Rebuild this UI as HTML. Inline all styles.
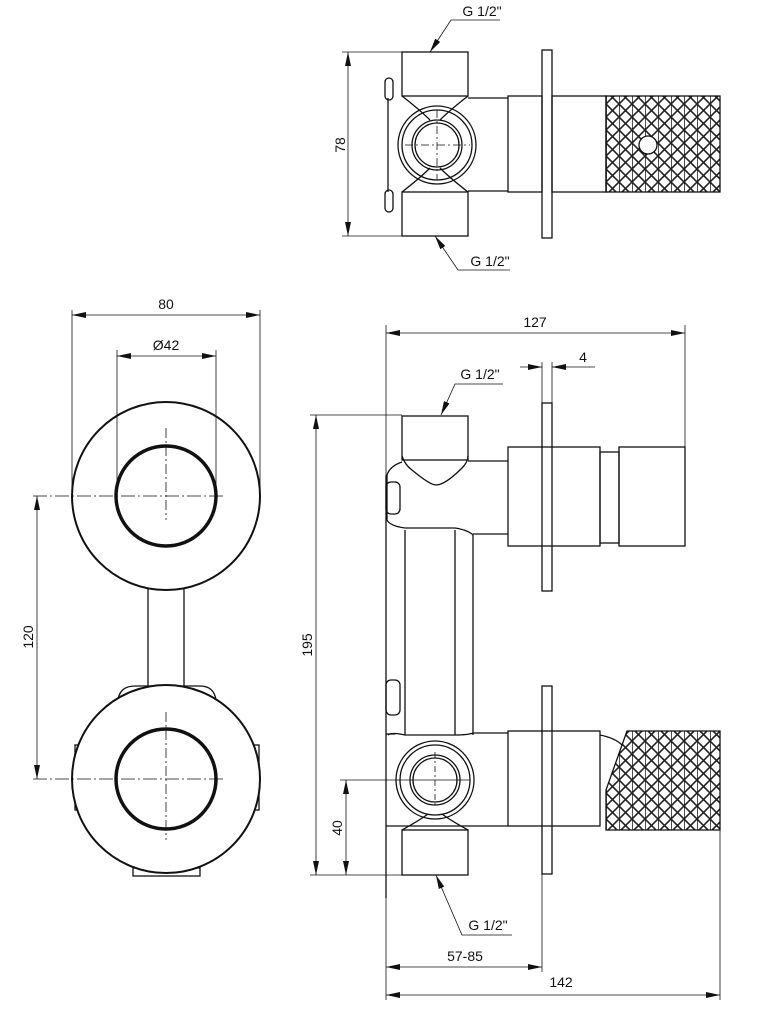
<!DOCTYPE html>
<html><head><meta charset="utf-8"><style>
html,body{margin:0;padding:0;background:#fff;}
svg{display:block;}
text{font-family:"Liberation Sans",sans-serif;font-size:14px;fill:#111;}
</style></head><body>
<svg width="757" height="1030" viewBox="0 0 757 1030" xmlns="http://www.w3.org/2000/svg">
<defs>
<pattern id="kn" width="13" height="13" patternUnits="userSpaceOnUse" x="606" y="0">
<path d="M0 0L13 13M13 0L0 13M0 0V13" stroke="#222" stroke-width="1.6" fill="none"/>
</pattern>
<marker id="a" markerWidth="14" markerHeight="6" refX="14" refY="3" orient="auto" markerUnits="userSpaceOnUse">
<path d="M0 0L14 3L0 6z" fill="#111"/></marker>
</defs>
<g fill="none" stroke="#111" stroke-width="1.3">

<!-- LEFT FRONT VIEW -->
<rect x="133" y="868" width="67" height="8"/>
<rect x="75" y="745" width="7" height="65"/>
<rect x="252" y="745" width="7" height="65"/>
<path d="M118 700 Q120 686 135 686 H200 Q214 686 216 700"/>
<line x1="148" y1="588" x2="148" y2="686"/>
<line x1="184" y1="588" x2="184" y2="686"/>
<circle cx="166" cy="496" r="94" stroke-width="2" fill="#fff"/>
<circle cx="166" cy="496" r="50" stroke-width="3.5"/>
<circle cx="166" cy="779" r="94" stroke-width="2" fill="#fff"/>
<circle cx="166" cy="779" r="50" stroke-width="3.5"/>
</g>
<g stroke="#111" stroke-width="0.8" fill="none">
<line x1="166" y1="428" x2="166" y2="520" stroke-dasharray="10 3 2 3"/>
<line x1="166" y1="712" x2="166" y2="840" stroke-dasharray="10 3 2 3"/>
<line x1="33" y1="496" x2="225" y2="496" stroke-dasharray="14 3 2 3"/>
<line x1="33" y1="779" x2="225" y2="779" stroke-dasharray="14 3 2 3"/>
<line x1="72" y1="310" x2="72" y2="490"/><line x1="260" y1="310" x2="260" y2="490"/>
<line x1="117" y1="350" x2="117" y2="496"/><line x1="216" y1="350" x2="216" y2="496"/>
<line x1="166" y1="315" x2="72" y2="315" marker-end="url(#a)"/><line x1="166" y1="315" x2="260" y2="315" marker-end="url(#a)"/>
<line x1="166" y1="356" x2="117" y2="356" marker-end="url(#a)"/><line x1="166" y1="356" x2="216" y2="356" marker-end="url(#a)"/>
<line x1="37" y1="637" x2="37" y2="496" marker-end="url(#a)"/><line x1="37" y1="637" x2="37" y2="779" marker-end="url(#a)"/>
</g>
<text x="166" y="309" text-anchor="middle">80</text>
<text x="166" y="350" text-anchor="middle">Ø42</text>
<text transform="translate(33,637) rotate(-90)" text-anchor="middle">120</text>

<!-- TOP VIEW -->
<g fill="none" stroke="#111" stroke-width="1.3">
<rect x="402" y="52" width="66" height="44"/>
<rect x="402" y="192" width="66" height="44"/>
<path d="M402 96 Q420 110 430 120 M468 96 Q450 110 440 120"/>
<path d="M402 192 Q420 178 430 168 M468 192 Q450 178 440 168"/>
<path d="M388 98 V192"/>
<rect x="385" y="78" width="8" height="22" rx="4"/>
<rect x="385" y="190" width="8" height="22" rx="4"/>
<path d="M468 98 H508 M468 191 H508"/>
<circle cx="437" cy="145" r="39"/>
<circle cx="437" cy="145" r="35"/>
<circle cx="437" cy="145" r="25"/>
<circle cx="437" cy="145" r="22"/>
<rect x="508" y="96" width="34" height="96"/>
<rect x="542" y="50" width="10" height="188"/>
<rect x="552" y="96" width="54" height="96"/>
<rect x="606" y="96" width="114" height="96" fill="url(#kn)"/>
<circle cx="648" cy="145" r="9" fill="#fff"/>
</g>
<g stroke="#111" stroke-width="0.8" fill="none">
<line x1="437" y1="110" x2="437" y2="180" stroke-dasharray="8 3 2 3"/>
<line x1="405" y1="145" x2="470" y2="145" stroke-dasharray="8 3 2 3"/>
<line x1="342" y1="52" x2="402" y2="52"/><line x1="342" y1="236" x2="402" y2="236"/>
<line x1="348" y1="144" x2="348" y2="52" marker-end="url(#a)"/><line x1="348" y1="144" x2="348" y2="236" marker-end="url(#a)"/>
<path d="M500 20 H451 L430 52" marker-end="url(#a)"/>
<path d="M510 270 H458 L435 236" marker-end="url(#a)"/>
</g>
<text x="482" y="16" text-anchor="middle">G 1/2"</text>
<text x="490" y="266" text-anchor="middle">G 1/2"</text>
<text transform="translate(345,145) rotate(-90)" text-anchor="middle">78</text>

<!-- SIDE VIEW -->
<g fill="none" stroke="#111" stroke-width="1.3">
<rect x="402" y="416" width="66" height="44"/>
<path d="M402 456 Q405 465 412 470 Q430 485 436 485 Q445 485 462 468 Q468 462 468 456"/>
<path d="M402 462 Q390 466 387 475 V520 Q390 526 405 528 H455 Q468 530 473 535"/>
<rect x="386" y="482" width="14" height="32" rx="5"/>
<path d="M468 461 H508 M473 534 H508"/>
<path d="M386 475 V898"/>
<path d="M405 530 V735 M455 530 V735 M473 535 V735"/>
<rect x="386" y="680" width="14" height="35" rx="5"/>
<path d="M388 735 Q392 732 405 735 H455 Q468 735 473 733 H508"/>
<path d="M386 734 H395 M386 826 H508"/>
<rect x="508" y="447" width="92" height="99"/>
<rect x="542" y="403" width="10" height="188"/>
<rect x="600" y="452" width="19" height="91"/>
<rect x="619" y="447" width="66" height="99"/>
<rect x="508" y="731" width="92" height="95"/>
<rect x="542" y="686" width="10" height="188"/>
<path d="M600 735 Q615 738 622 745"/>
<path d="M627 731 H720 V830 H606 V790 Z" fill="url(#kn)"/>
<circle cx="435" cy="780" r="39"/>
<circle cx="435" cy="780" r="35"/>
<circle cx="435" cy="780" r="25"/>
<circle cx="435" cy="780" r="22"/>
<path d="M402 830 Q420 820 428 814 M468 830 Q450 820 442 814"/>
<rect x="402" y="830" width="66" height="45"/>
</g>
<g stroke="#111" stroke-width="0.8" fill="none">
<line x1="435" y1="752" x2="435" y2="808" stroke-dasharray="6 3 2 3"/>
<line x1="340" y1="780" x2="470" y2="780"/>
<line x1="386" y1="325" x2="386" y2="1000"/>
<line x1="685" y1="325" x2="685" y2="447"/>
<line x1="542" y1="362" x2="542" y2="403"/><line x1="552" y1="362" x2="552" y2="403"/>
<line x1="542" y1="874" x2="542" y2="972"/>
<line x1="720" y1="830" x2="720" y2="1000"/>
<line x1="310" y1="415" x2="402" y2="415"/><line x1="310" y1="875" x2="402" y2="875"/>
<line x1="535" y1="333" x2="386" y2="333" marker-end="url(#a)"/><line x1="535" y1="333" x2="685" y2="333" marker-end="url(#a)"/>
<line x1="520" y1="367" x2="542" y2="367" marker-end="url(#a)"/><line x1="595" y1="367" x2="552" y2="367" marker-end="url(#a)"/>
<line x1="316" y1="645" x2="316" y2="415" marker-end="url(#a)"/><line x1="316" y1="645" x2="316" y2="875" marker-end="url(#a)"/>
<line x1="346" y1="800" x2="346" y2="780" marker-end="url(#a)"/><line x1="346" y1="800" x2="346" y2="875" marker-end="url(#a)"/>
<line x1="465" y1="967" x2="386" y2="967" marker-end="url(#a)"/><line x1="465" y1="967" x2="542" y2="967" marker-end="url(#a)"/>
<line x1="555" y1="995" x2="386" y2="995" marker-end="url(#a)"/><line x1="555" y1="995" x2="720" y2="995" marker-end="url(#a)"/>
<path d="M503 384 H455 L441 415" marker-end="url(#a)"/>
<path d="M512 935 H462 L436 875" marker-end="url(#a)"/>
</g>
<text x="535" y="327" text-anchor="middle">127</text>
<text x="583" y="362" text-anchor="middle">4</text>
<text x="480" y="379" text-anchor="middle">G 1/2"</text>
<text x="488" y="930" text-anchor="middle">G 1/2"</text>
<text x="465" y="961" text-anchor="middle">57-85</text>
<text x="561" y="987" text-anchor="middle">142</text>
<text transform="translate(312,645) rotate(-90)" text-anchor="middle">195</text>
<text transform="translate(342,828) rotate(-90)" text-anchor="middle">40</text>
</svg>
</body></html>
